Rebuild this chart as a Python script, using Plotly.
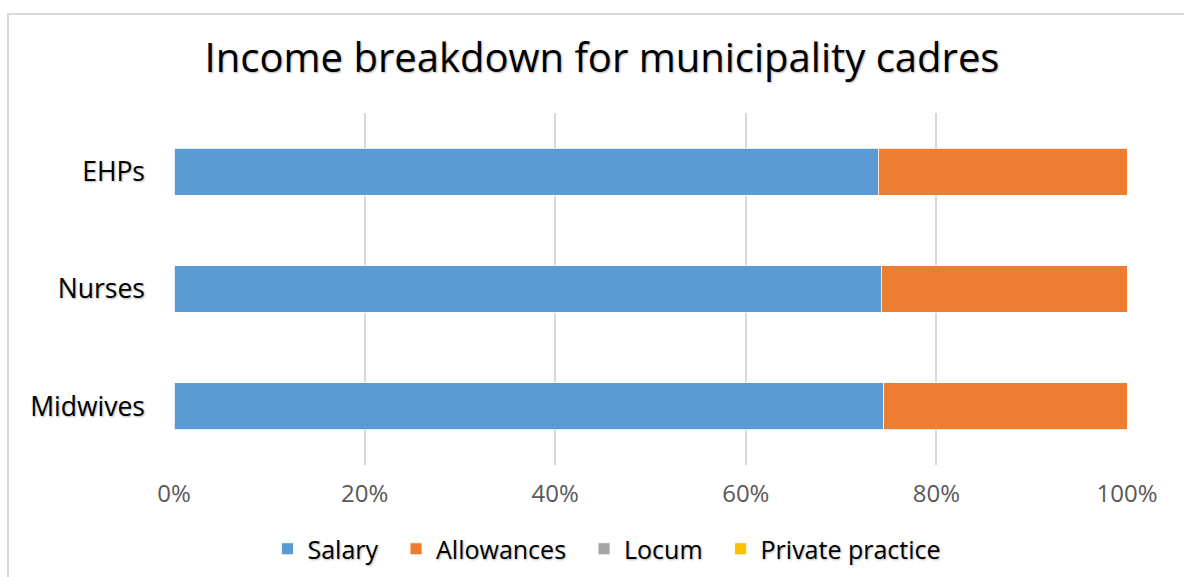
import plotly.graph_objects as go

# Cadres shown on the vertical axis (bottom to top)
cadres = ["Midwives", "Nurses", "EHPs"]

# Share of income by source (percent)
salary = [74.5, 74.2, 73.9]
allowances = [25.5, 25.8, 26.1]
locum = [0, 0, 0]
private_practice = [0, 0, 0]

x_ticks = [0, 20, 40, 60, 80, 100]
x_tick_labels = ["0%", "20%", "40%", "60%", "80%", "100%"]

# non-breaking spaces widen the gap between legend entries
pad = "\u00a0\u00a0"
series = [
    ("Salary", "Salary" + pad, salary, "#5B9BD5"),
    ("Allowances", "Allowances" + pad, allowances, "#ED7D31"),
    ("Locum", "Locum" + pad, locum, "#A5A5A5"),
    ("Private practice", "Private practice", private_practice, "#FFC000"),
]

fig = go.Figure()
for key, label, vals, color in series:
    fig.add_trace(go.Bar(
        y=cadres, x=vals, name=label, orientation="h",
        marker=dict(color=color, line=dict(color="white", width=0.8)),
        width=0.4,
    ))

W, H = 1184, 577
ml, mr, mt, mb = 174, 57, 113, 112
pw, ph = W - ml - mr, H - mt - mb

def px_to_paper_x(px):
    return (px - ml) / pw

def px_to_paper_y(py):
    return 1 - (py - mt) / ph

shadow = "1px 1px 2px rgba(0,0,0,0.3)"

fig.update_layout(
    width=W, height=H,
    barmode="stack",
    margin=dict(l=ml, r=mr, t=mt, b=mb, autoexpand=False),
    paper_bgcolor="white",
    plot_bgcolor="white",
    font=dict(family="Open Sans, Carlito, Calibri, sans-serif"),
    title=dict(
        text="Income breakdown for municipality cadres",
        x=px_to_paper_x(602), xref="paper", xanchor="center",
        y=1 - 58 / H, yanchor="middle",
        font=dict(size=40, color="#000000", shadow=shadow),
    ),
    xaxis=dict(
        range=[0, 100],
        tickvals=x_ticks, ticktext=x_tick_labels,
        showgrid=True, gridcolor="#D9D9D9", gridwidth=2,
        zeroline=False, showline=False,
        tickfont=dict(size=24, color="#595959"),
        ticks="", ticklabelstandoff=12,
    ),
    yaxis=dict(
        range=[-0.5, 2.5],
        showgrid=False, zeroline=False, showline=False,
        tickfont=dict(size=26.5, color="#000000", shadow=shadow),
        ticks="", ticklabelstandoff=28,
    ),
    legend=dict(
        orientation="h",
        x=px_to_paper_x(607), xanchor="center",
        y=px_to_paper_y(549), yanchor="middle",
        font=dict(size=25, color="#000000", shadow=shadow),
        itemwidth=30,
        traceorder="normal",
    ),
    shapes=[
        dict(
            type="rect", xref="paper", yref="paper", layer="below",
            x0=px_to_paper_x(8), x1=px_to_paper_x(1200),
            y0=px_to_paper_y(600), y1=px_to_paper_y(14),
            line=dict(color="#D9D9D9", width=2), fillcolor="rgba(0,0,0,0)",
        ),
    ],
)

fig.write_html("out.html")
